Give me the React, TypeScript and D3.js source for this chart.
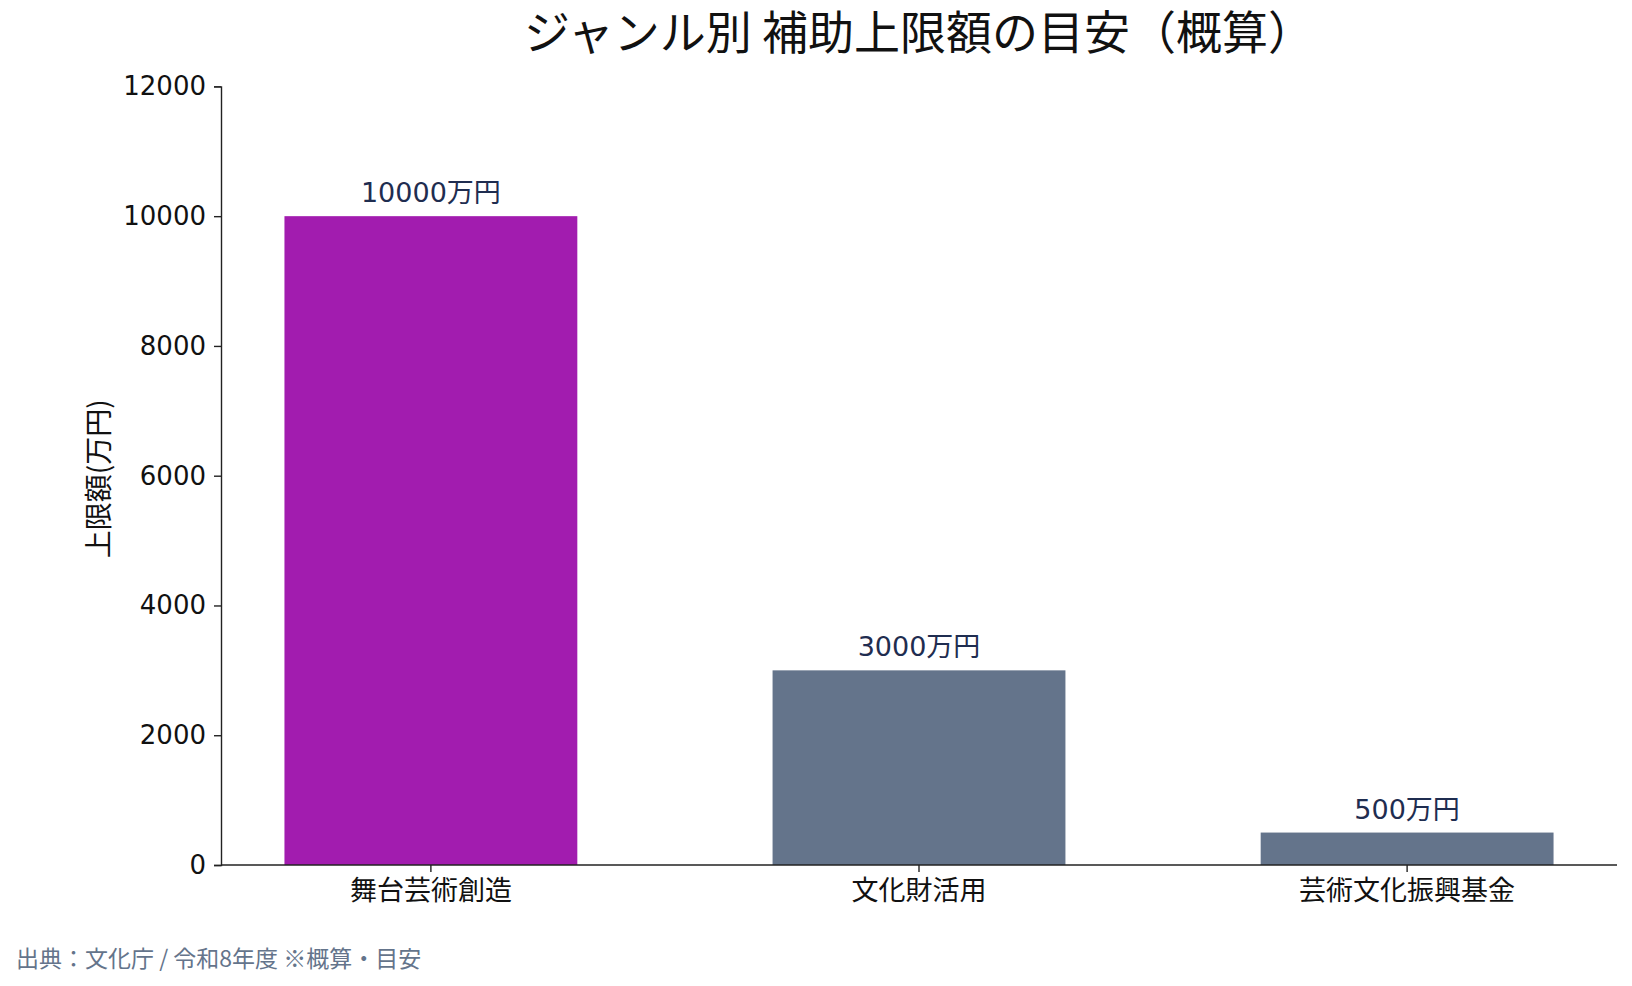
import React, { useEffect, useRef } from 'react';
import * as d3 from 'd3';

const categories = ['舞台芸術創造', '文化財活用', '芸術文化振興基金'];
const values = [10000, 3000, 500];
const valueLabels = ['10000万円', '3000万円', '500万円'];
const yTicks = [0, 2000, 4000, 6000, 8000, 10000, 12000];
const highlighted = '舞台芸術創造';

const title = 'ジャンル別 補助上限額の目安（概算）';
const yLabel = '上限額(万円)';
const note = '出典：文化庁 / 令和8年度 ※概算・目安';

const W = 1632;
const H = 986;
const left = 221;
const right = 1617;
const top = 86.4;
const bottom = 865;
const font = "'Noto Sans CJK JP', 'Noto Sans', sans-serif";
const numFont = "'DejaVu Sans', 'Noto Sans CJK JP', sans-serif";

export default function App() {
  const svgRef = useRef<SVGSVGElement>(null);

  useEffect(() => {
    const svg = d3.select(svgRef.current);
    svg.selectAll('*').remove();

    const x = d3.scaleBand()
      .domain(categories)
      .range([left, right])
      .paddingInner(0.4)
      .paddingOuter(0.13);

    const y = d3.scaleLinear()
      .domain([0, 12000])
      .range([bottom, top]);

    // bars
    svg.append('g')
      .selectAll('rect')
      .data(categories)
      .join('rect')
      .attr('x', (d) => x(d)!)
      .attr('y', (d, i) => y(values[i]))
      .attr('width', x.bandwidth())
      .attr('height', (d, i) => y(0) - y(values[i]))
      .attr('fill', (d) => (d === highlighted ? '#a21caf' : '#64748b'));

    // value labels
    svg.append('g')
      .selectAll('text')
      .data(categories)
      .join('text')
      .attr('x', (d) => x(d)! + x.bandwidth() / 2)
      .attr('y', (d, i) => y(values[i]) - 14)
      .attr('text-anchor', 'middle')
      .attr('font-family', numFont)
      .attr('font-size', 27)
      .attr('fill', '#1f2d50')
      .text((d, i) => valueLabels[i]);

    // y axis
    const yAxis = svg.append('g')
      .attr('transform', `translate(${left},0)`)
      .call(d3.axisLeft(y).tickValues(yTicks).tickSize(7).tickPadding(8).tickFormat(d3.format('d')));
    yAxis.selectAll('text')
      .attr('font-family', numFont)
      .attr('font-size', 26)
      .attr('fill', '#111');

    // x axis
    const xAxis = svg.append('g')
      .attr('transform', `translate(0,${bottom})`)
      .call(d3.axisBottom(x).tickSize(7).tickSizeOuter(0));
    xAxis.selectAll('text')
      .attr('dy', null)
      .attr('y', 35)
      .attr('font-family', font)
      .attr('font-size', 27)
      .attr('fill', '#111');

    [yAxis, xAxis].forEach((g) => {
      g.select('.domain').attr('stroke', '#222').attr('stroke-width', 1.4);
      g.selectAll('.tick line').attr('stroke', '#222').attr('stroke-width', 1.4);
    });
    // extend x axis line to the plot edges
    xAxis.select('.domain').attr('d', `M${left},0H${right}`);
  }, []);

  return (
    <div style={{ position: 'fixed', left: 0, top: 0, width: W, height: H, background: '#fff' }}>
      <svg ref={svgRef} width={W} height={H} style={{ position: 'absolute', left: 0, top: 0 }} />
      <svg width={W} height={H} style={{ position: 'absolute', left: 0, top: 0 }}>
        <text x={(left + right) / 2} y={49} textAnchor="middle" fontFamily={font} fontSize={46} fill="#111">
          {title}
        </text>
        <text
          transform={`translate(${99 + 10},${(top + bottom) / 2 + 3}) rotate(-90)`}
          textAnchor="middle"
          fontFamily={font}
          fontSize={28}
          fill="#111"
        >
          {yLabel}
        </text>
        <text x={16} y={967} fontFamily={font} fontSize={23} fill="#64748b">
          {note}
        </text>
      </svg>
    </div>
  );
}
